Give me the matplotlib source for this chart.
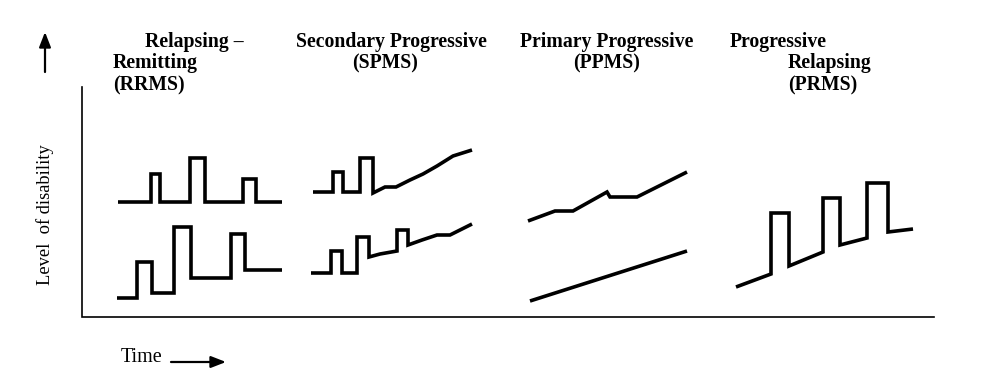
import matplotlib
matplotlib.use("Agg")
import matplotlib.pyplot as plt

# ---------- curves (pixel space, y grows downward) ----------
rr_top_x = [118, 151, 151, 160, 160, 190, 190, 205, 205, 243, 243, 256, 256, 282]
rr_top_y = [202, 202, 174, 174, 202, 202, 158, 158, 202, 202, 179, 179, 202, 202]
rr_bot_x = [117, 137, 137, 152, 152, 174, 174, 191, 191, 231, 231, 245, 245, 282]
rr_bot_y = [298, 298, 262, 262, 293, 293, 227, 227, 278, 278, 234, 234, 270, 270]

sp_top_x = [313, 333, 333, 343, 343, 360, 360, 373, 373, 385, 396, 410, 423, 437, 453, 472]
sp_top_y = [192, 192, 172, 172, 192, 192, 158, 158, 193, 187, 187, 180, 174, 166, 156, 150]
sp_bot_x = [311, 331, 331, 342, 342, 357, 357, 369, 369, 380, 397, 397, 408, 408, 422, 437, 450, 472]
sp_bot_y = [273, 273, 251, 251, 273, 273, 237, 237, 257, 254, 251, 230, 230, 245, 240, 235, 235, 224]

pp_top_x = [528, 555, 573, 607, 610, 637, 687]
pp_top_y = [221, 211, 211, 192, 197, 197, 172]
pp_bot_x = [530, 687]
pp_bot_y = [301, 251]

pr_x = [736, 771, 771, 789, 789, 823, 823, 840, 840, 867, 867, 888, 888, 913]
pr_y = [287, 274, 213, 213, 266, 252, 198, 198, 245, 238, 183, 183, 232, 229]

curves = [(rr_top_x, rr_top_y), (rr_bot_x, rr_bot_y),
          (sp_top_x, sp_top_y), (sp_bot_x, sp_bot_y),
          (pp_top_x, pp_top_y), (pp_bot_x, pp_bot_y),
          (pr_x, pr_y)]

titles = [
    (145, 42, "Relapsing \u2013", "left"),
    (113, 63, "Remitting", "left"),
    (113, 85, "(RRMS)", "left"),
    (391, 42, "Secondary Progressive", "center"),
    (385, 63, "(SPMS)", "center"),
    (607, 42, "Primary Progressive", "center"),
    (607, 63, "(PPMS)", "center"),
    (730, 42, "Progressive", "left"),
    (788, 63, "Relapsing", "left"),
    (788, 85, "(PRMS)", "left"),
]

W, H = 1003, 392
fig = plt.figure(figsize=(W / 100, H / 100), dpi=100)
ax = fig.add_axes([0, 0, 1, 1])
ax.set_xlim(0, W)
ax.set_ylim(H, 0)
ax.axis("off")

serif = ["Liberation Serif", "DejaVu Serif"]

# axes frame
ax.plot([82, 82, 934], [87, 317, 317], color="black", lw=1.2, solid_joinstyle="miter")

for xs, ys in curves:
    ax.plot(xs, ys, color="black", lw=2.6, solid_joinstyle="miter", solid_capstyle="butt")

for x, y, s, ha in titles:
    ax.text(x, y, s, ha=ha, va="center", fontsize=14.2, fontweight="bold", family=serif)

# up arrow and axis labels
arrow = dict(arrowstyle="-|>,head_width=0.35,head_length=0.9", color="black", lw=1.6,
             shrinkA=0, shrinkB=0)
ax.annotate("", xy=(45, 32), xytext=(45, 72), arrowprops=arrow)
ax.text(45, 215, "Level  of disability", rotation=90, ha="center", va="center",
        fontsize=13.3, family=serif)
ax.text(121, 358, "Time", ha="left", va="center", fontsize=14.5, family=serif)
ax.annotate("", xy=(226, 362), xytext=(171, 362), arrowprops=arrow)

fig.savefig("out.png", dpi=100)
